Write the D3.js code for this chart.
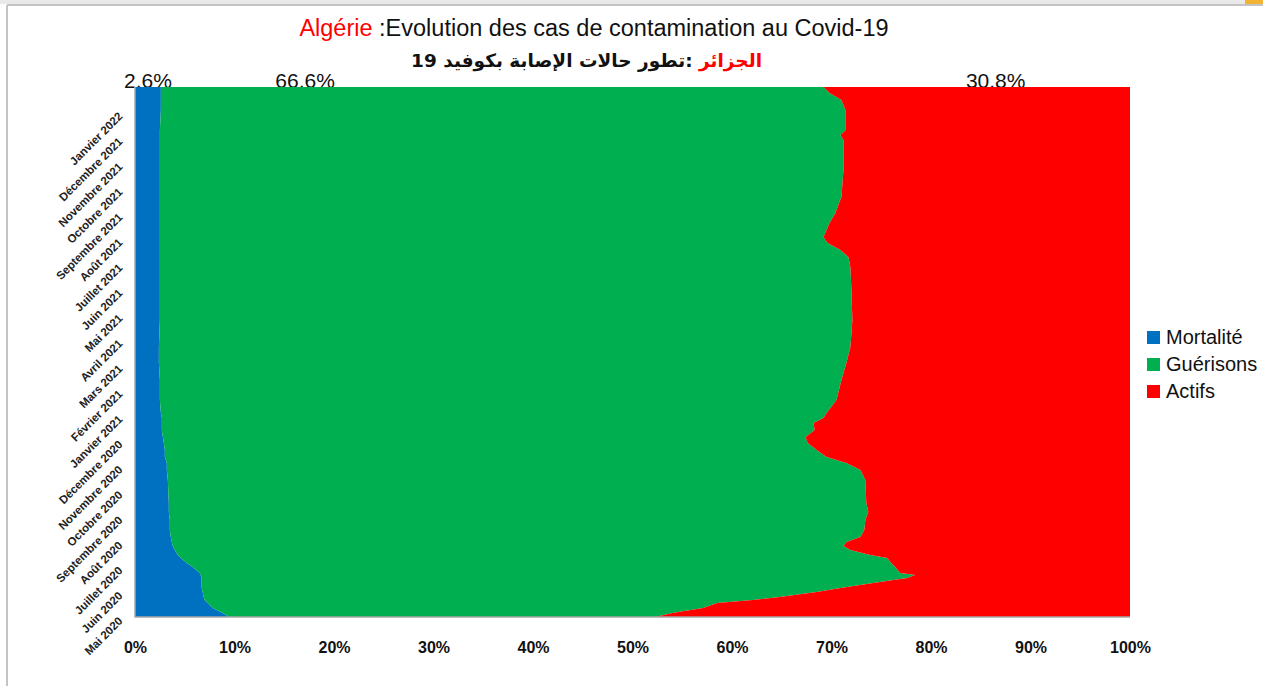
<!DOCTYPE html>
<html><head><meta charset="utf-8">
<script src="https://cdn.jsdelivr.net/npm/d3@7"></script>
<style>
html,body{margin:0;padding:0;background:#fff;}
svg{display:block;}
</style></head>
<body>
<svg id="chart" width="1263" height="686"></svg>
<script>
// ---------- data ----------
// position in months since the start of "Mai 2020" (bottom) up to Janvier 2022 (top)
const monthPos = [0.00,0.16,0.36,0.55,0.67,0.79,0.99,1.15,1.35,1.55,1.66,1.74,1.98,2.14,2.34,2.46,2.65,2.81,2.97,3.17,3.45,3.84,4.16,4.52,5.43,5.82,6.10,6.34,6.62,6.89,7.13,7.41,7.69,7.88,8.08,8.60,9.39,10.06,10.70,11.77,12.96,13.87,14.26,14.54,14.82,15.06,15.33,15.61,16.01,16.24,16.64,17.71,18.90,19.10,19.29,20.09,20.48,20.76,21.00];
const mortalite = [9.5,8.8,7.8,7.3,7.0,6.9,6.8,6.7,6.7,6.7,6.6,6.5,5.8,5.2,4.6,4.3,4.0,3.8,3.7,3.6,3.5,3.5,3.4,3.4,3.3,3.2,3.2,3.0,3.0,2.9,2.8,2.7,2.7,2.7,2.6,2.5,2.5,2.4,2.4,2.5,2.5,2.5,2.5,2.5,2.5,2.5,2.5,2.5,2.5,2.5,2.5,2.5,2.5,2.5,2.5,2.6,2.6,2.6,2.6];
const guerisons = [42.8,45.2,49.3,51.2,55.1,57.9,61.7,64.2,67.5,70.9,71.8,70.4,70.6,70.8,71.0,69.6,67.9,67.4,67.8,69.3,69.8,69.9,70.3,70.1,70.1,69.7,68.3,66.5,65.5,64.7,64.6,65.6,65.5,66.5,66.9,68.0,68.5,69.1,69.5,69.6,69.5,69.4,69.2,68.4,67.1,66.7,67.0,67.3,67.9,68.1,68.5,68.7,68.7,68.4,68.9,68.8,68.4,67.2,66.6];
const actifs = [47.7,46.0,42.9,41.5,37.9,35.2,31.5,29.1,25.8,22.4,21.6,23.1,23.6,24.0,24.4,26.1,28.1,28.8,28.5,27.1,26.7,26.6,26.3,26.5,26.6,27.1,28.5,30.5,31.5,32.4,32.6,31.7,31.8,30.8,30.5,29.5,29.0,28.5,28.1,27.9,28.0,28.1,28.3,29.1,30.4,30.8,30.5,30.2,29.6,29.4,29.0,28.8,28.8,29.1,28.6,28.6,29.0,30.2,30.8];
const monthLabels = ["Mai 2020","Juin 2020","Juillet 2020","Août 2020","Septembre 2020","Octobre 2020","Novembre 2020","Décembre 2020","Janvier 2021","Février 2021","Mars 2021","Avril 2021","Mai 2021","Juin 2021","Juillet 2021","Août 2021","Septembre 2021","Octobre 2021","Novembre 2021","Décembre 2021","Janvier 2022"];
const xTicks = [0,10,20,30,40,50,60,70,80,90,100];
const seriesKeys = ["Mortalité","Guérisons","Actifs"];
const seriesColors = ["#0070C0","#00B050","#FF0000"];
const finalLabels = ["2,6%","66,6%","30,8%"];
const finalLabelPos = [1.3,17.1,86.5]; // % position along the axis where the annotation sits

// ---------- build ----------
const rows = monthPos.map((p,i)=>({pos:p,"Mortalité":mortalite[i],"Guérisons":guerisons[i],"Actifs":actifs[i]}));
const svg = d3.select("#chart");
const W=1263,H=686;
const plot = {left:135,right:1130,top:87,bottom:617};

// frame
svg.append("rect").attr("x",0).attr("y",0).attr("width",W).attr("height",4).attr("fill","#e9e9e9");
svg.append("rect").attr("x",1245).attr("y",0).attr("width",18).attr("height",6).attr("fill","#f2b233");
svg.append("line").attr("x1",7).attr("x2",W).attr("y1",5).attr("y2",5).attr("stroke","#c4c4c4").attr("stroke-width",2);
svg.append("line").attr("x1",7).attr("x2",7).attr("y1",5).attr("y2",H).attr("stroke","#c4c4c4").attr("stroke-width",2);

const x = d3.scaleLinear().domain([0,100]).range([plot.left,plot.right]);
const y = d3.scaleLinear().domain([0,21]).range([plot.bottom,plot.top]);

const FONT = "'Liberation Sans Narrow','Arial Narrow','Liberation Sans',Arial,sans-serif";

// title
const t1 = svg.append("text").attr("x",594).attr("y",36).attr("text-anchor","middle")
  .attr("font-family",FONT).attr("font-size",23.5).attr("fill","#111");
t1.append("tspan").attr("fill","#FF0000").text("Algérie");
t1.append("tspan").text(" :Evolution des cas de contamination  au Covid-19");

const t2 = svg.append("text").attr("x",762).attr("y",67).attr("text-anchor","end")
  .attr("font-family","'DejaVu Sans','Noto Sans',sans-serif").attr("font-weight","bold").attr("font-size",18.5).attr("fill","#111");
t2.append("tspan").attr("fill","#FF0000").text("الجزائر");
t2.append("tspan").text(" :تطور حالات الإصابة بكوفيد 19");

// final value annotations (drawn under the areas)
svg.selectAll("text.fin").data(finalLabels).join("text").attr("class","fin")
  .attr("x",(d,i)=>x(finalLabelPos[i])).attr("y",88).attr("text-anchor","middle")
  .attr("font-family",FONT).attr("font-size",21).attr("fill","#111").text(d=>d);

// stacked areas
const stack = d3.stack().keys(seriesKeys);
const layers = stack(rows);
const area = d3.area()
  .y(d=>y(d.data.pos))
  .x0(d=>x(d[0]))
  .x1(d=>x(d[1]))
  .curve(d3.curveLinear);
svg.append("g").selectAll("path").data(layers).join("path")
  .attr("d",area).attr("fill",(d,i)=>seriesColors[i]);

// plot border left/bottom
svg.append("path").attr("d",`M${plot.left},${plot.top}V${plot.bottom}H${plot.right}`)
  .attr("fill","none").attr("stroke","#a6a6a6").attr("stroke-width",1.5);

// x axis labels
const xAxis = d3.axisBottom(x).tickValues(xTicks).tickFormat(d=>d+"%").tickSize(0).tickPadding(0);
const gx = svg.append("g").attr("transform",`translate(0,${plot.bottom+25})`).call(xAxis);
gx.select(".domain").remove();
gx.selectAll("text").attr("font-family",FONT).attr("font-size",16).attr("font-weight","bold").attr("fill","#111");

// y axis labels (rotated)
const yAxis = d3.axisLeft(y).tickValues(d3.range(monthLabels.length)).tickFormat(i=>monthLabels[i]).tickSize(0).tickPadding(0);
const gy = svg.append("g").attr("transform",`translate(${plot.left-19},-3)`).call(yAxis);
gy.select(".domain").remove();
gy.selectAll("text").attr("font-family",FONT).attr("font-size",11.5).attr("font-weight","bold").attr("fill","#222")
  .attr("dy","0.9em").attr("x",0).attr("text-anchor","end").attr("transform","rotate(-45)");

// legend
const lg = svg.append("g").attr("transform","translate(1147,331)");
seriesKeys.forEach((k,i)=>{
  lg.append("rect").attr("x",0).attr("y",i*27).attr("width",13).attr("height",13).attr("fill",seriesColors[i]);
  lg.append("text").attr("x",19).attr("y",i*27+12.5).attr("font-family",FONT).attr("font-size",20).attr("fill","#111").text(k);
});
</script>
</body></html>
